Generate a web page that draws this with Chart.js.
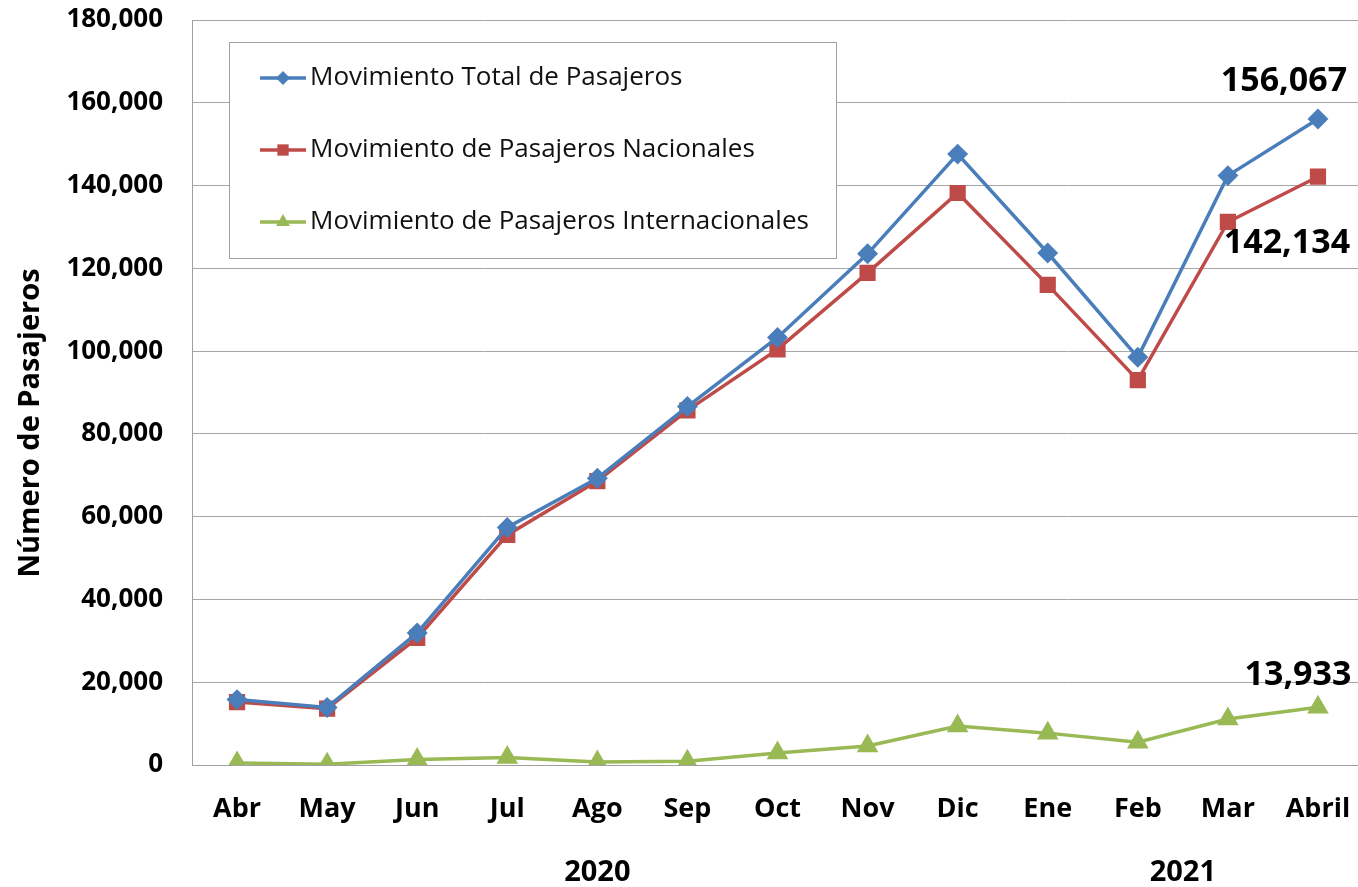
<!DOCTYPE html>
<html>
<head>
<meta charset="utf-8">
<script src="https://cdn.jsdelivr.net/npm/chart.js@4/dist/chart.umd.min.js"></script>
<style>
  html, body { margin: 0; padding: 0; background: #fff; }
  canvas { display: block; }
</style>
</head>
<body>
<canvas id="c" width="1358" height="887"></canvas>
<script>
const categories = ['Abr','May','Jun','Jul','Ago','Sep','Oct','Nov','Dic','Ene','Feb','Mar','Abril'];
const years = [{label: '2020', from: 0, to: 8}, {label: '2021', from: 9, to: 12}];
const seriesNames = ['Movimiento Total de Pasajeros','Movimiento de Pasajeros Nacionales','Movimiento de Pasajeros Internacionales'];
const totalValues = [15800, 13900, 31900, 57400, 69300, 86600, 103300, 123500, 147600, 123700, 98500, 142400, 156067];
const nacionalValues = [15200, 13600, 30700, 55600, 68600, 85700, 100400, 118900, 138200, 116000, 93000, 131200, 142134];
const internacionalValues = [500, 200, 1300, 1800, 700, 900, 2900, 4600, 9400, 7700, 5500, 11100, 13933];
const yTicks = [0, 20000, 40000, 60000, 80000, 100000, 120000, 140000, 160000, 180000];
const yTitle = 'Número de Pasajeros';

const FONT = "'Open Sans', 'Noto Sans', sans-serif";
const fmt = v => v.toLocaleString('en-US');

const datasets = [
  {label: seriesNames[0], data: totalValues, borderColor: '#4a7ebb', backgroundColor: '#4a7ebb',
   pointStyle: 'rectRot', pointRadius: 8, pointHoverRadius: 8, borderWidth: 3.5, lastLabel: {dx: -34, dy: -38}},
  {label: seriesNames[1], data: nacionalValues, borderColor: '#be4b48', backgroundColor: '#be4b48',
   pointStyle: 'rect', pointRadius: 9, pointHoverRadius: 9, borderWidth: 3.5, lastLabel: {dx: -31, dy: 67}},
  {label: seriesNames[2], data: internacionalValues, borderColor: '#98b954', backgroundColor: '#98b954',
   pointStyle: 'triangle', pointRadius: 9, pointHoverRadius: 9, borderWidth: 3.5, lastLabel: {dx: -20, dy: -32}}
];

const overlayPlugin = {
  id: 'overlay',
  afterLayout(chart) {
    // the original plot area runs a few pixels past the right edge of the picture
    const xs = chart.scales.x;
    const newRight = chart.width + 5;
    chart.chartArea.right = newRight;
    chart.chartArea.width = newRight - chart.chartArea.left;
    xs.right = newRight;
    xs.width = newRight - xs.left;
    xs.configure();
  },
  afterDraw(chart) {
    const ctx = chart.ctx;
    ctx.save();
    ctx.translate(31, 423);
    ctx.rotate(-Math.PI / 2);
    ctx.font = "bold 29px " + FONT;
    ctx.fillStyle = '#000';
    ctx.textAlign = 'center';
    ctx.textBaseline = 'middle';
    ctx.fillText(yTitle, 0, 0);
    ctx.restore();
  },
  afterDatasetsDraw(chart) {
    const ctx = chart.ctx;
    const xs = chart.scales.x;
    ctx.save();
    ctx.font = "bold 34px " + FONT;
    ctx.fillStyle = '#000';
    ctx.textAlign = 'center';
    ctx.textBaseline = 'middle';
    chart.data.datasets.forEach((ds, i) => {
      const meta = chart.getDatasetMeta(i);
      const last = meta.data[meta.data.length - 1];
      ctx.fillText(fmt(ds.data[ds.data.length - 1]), last.x + ds.lastLabel.dx, last.y + ds.lastLabel.dy);
    });
    ctx.restore();

    ctx.save();
    ctx.font = "bold 29px " + FONT;
    ctx.fillStyle = '#000';
    ctx.textAlign = 'center';
    ctx.textBaseline = 'middle';
    years.forEach(y => {
      const cx = (xs.getPixelForValue(y.from) + xs.getPixelForValue(y.to)) / 2;
      ctx.fillText(y.label, cx, 873);
    });
    ctx.restore();

    const box = {x: 229.5, y: 42.5, w: 607, h: 216};
    ctx.save();
    ctx.fillStyle = '#fff';
    ctx.fillRect(box.x, box.y, box.w, box.h);
    ctx.strokeStyle = '#a0a0a0';
    ctx.lineWidth = 1;
    ctx.strokeRect(box.x, box.y, box.w, box.h);
    const rows = [78, 150, 222];
    chart.data.datasets.forEach((ds, i) => {
      const y = rows[i];
      ctx.strokeStyle = ds.borderColor;
      ctx.lineWidth = 3.5;
      ctx.beginPath();
      ctx.moveTo(260, y);
      ctx.lineTo(306, y);
      ctx.stroke();
      ctx.fillStyle = ds.backgroundColor;
      Chart.helpers.drawPoint(ctx, {pointStyle: ds.pointStyle, radius: ds.pointRadius - 1, rotation: 0, borderWidth: 0}, 283, y);
      ctx.fillStyle = '#111';
      ctx.font = "26px " + FONT;
      ctx.textAlign = 'left';
      ctx.textBaseline = 'middle';
      ctx.fillText(ds.label, 310, y);
    });
    ctx.restore();
  }
};

new Chart(document.getElementById('c'), {
  type: 'line',
  data: {labels: categories, datasets},
  options: {
    responsive: false,
    devicePixelRatio: 1,
    animation: false,
    layout: {autoPadding: false, padding: {top: 20, right: 0, bottom: 0, left: 0}},
    plugins: {legend: {display: false}, tooltip: {enabled: false}},
    elements: {line: {tension: 0}},
    scales: {
      x: {
        offset: true,
        grid: {display: false, drawTicks: false},
        border: {color: '#a0a0a0', width: 1},
        ticks: {color: '#000', font: {family: FONT, size: 27, weight: 'bold'}, padding: 28, maxRotation: 0},
        afterFit(s) { s.height = 122; s.paddingLeft = 0; s.paddingRight = 0; }
      },
      y: {
        min: 0, max: 180000,
        afterBuildTicks(s) { s.ticks = yTicks.map(v => ({value: v})); },
        grid: {color: '#a6a6a6', lineWidth: 1, drawTicks: false},
        border: {color: '#a0a0a0', width: 1},
        ticks: {color: '#000', font: {family: FONT, size: 26, weight: 'bold'}, padding: 29, callback: v => fmt(v)},
        afterFit(s) { s.width = 192; s.paddingTop = 0; s.paddingBottom = 0; }
      }
    }
  },
  plugins: [overlayPlugin]
});
</script>
</body>
</html>
